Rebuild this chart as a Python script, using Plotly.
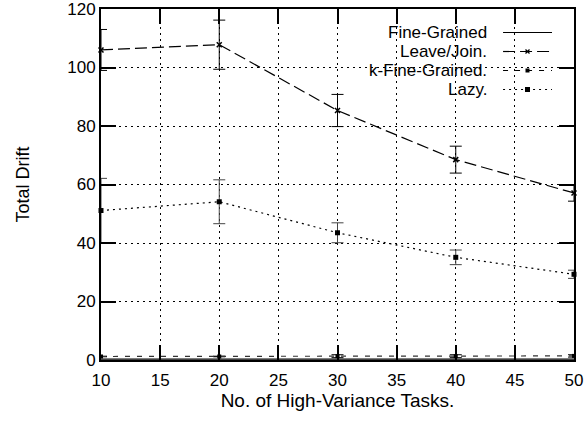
import plotly.graph_objects as go

# ---- data ----
tasks = [10, 20, 30, 40, 50]
fine_grained = [0.3, 0.3, 0.3, 0.3, 0.3]
leave_join = [106.0, 107.8, 85.3, 68.5, 57.1]
leave_join_err = [7.0, 8.4, 5.5, 4.6, 2.8]
k_fine_grained = [1.2, 1.2, 1.3, 1.3, 1.4]
k_fine_grained_err = [0.1, 0.1, 0.5, 0.5, 0.4]
lazy = [51.1, 54.1, 43.5, 35.1, 29.3]
lazy_err = [11.0, 7.5, 3.4, 2.5, 1.4]

series_names = ["Fine-Grained", "Leave/Join.", "k-Fine-Grained.", "Lazy."]

FONT = "Liberation Sans, Arial, Helvetica, sans-serif"

fig = go.Figure()

def err(arr, col="black"):
    return dict(type="data", array=arr, visible=True, color=col, thickness=1, width=6)

fig.add_trace(go.Scatter(x=tasks, y=fine_grained, mode="lines", name=series_names[0],
                         line=dict(color="black", width=1.3)))
fig.add_trace(go.Scatter(x=tasks, y=leave_join, mode="lines+markers", name=series_names[1],
                         line=dict(color="black", width=1.2, dash="12px,5px"),
                         marker=dict(symbol="x-thin", size=5, color="black",
                                     line=dict(color="black", width=1.5)),
                         error_y=err(leave_join_err), cliponaxis=False))
fig.add_trace(go.Scatter(x=tasks, y=k_fine_grained, mode="lines+markers", name=series_names[2],
                         line=dict(color="#333333", width=1.2, dash="5px,7px"),
                         marker=dict(symbol="square", size=4, color="black"),
                         error_y=err(k_fine_grained_err), cliponaxis=False))
fig.add_trace(go.Scatter(x=tasks, y=lazy, mode="lines+markers", name=series_names[3],
                         line=dict(color="black", width=1.2, dash="2px,4px"),
                         marker=dict(symbol="square", size=5, color="black"),
                         error_y=err(lazy_err, "#444444"), cliponaxis=False))

axis_common = dict(
    showline=True, linecolor="black", linewidth=2, mirror="ticks",
    ticks="inside", ticklen=15, tickwidth=2, tickcolor="black",
    showgrid=True, gridcolor="black", gridwidth=1, griddash="2px,4px",
    zeroline=False, automargin=False, ticklabeloverflow="allow",
    tickfont=dict(family=FONT, size=17, color="black"),
)

fig.update_xaxes(range=[10, 50], dtick=5, tick0=10, ticklabelstandoff=4,
                 title=dict(text="No. of High-Variance Tasks.",
                            font=dict(family=FONT, size=19, color="black"), standoff=0),
                 **axis_common)
fig.update_yaxes(range=[0, 120], dtick=20, tick0=0,
                 title=dict(text="Total Drift",
                            font=dict(family=FONT, size=18, color="black"), standoff=33),
                 **axis_common)

# legend box (opaque, hides grid)
shapes = [dict(type="rect", xref="paper", yref="paper", x0=0.463, x1=1.0, y0=0.753, y1=1.0,
               fillcolor="white", line=dict(width=0), layer="between")]
annotations = []
rows = [0.9330, 0.8789, 0.8248, 0.7707]
dashes = ["solid", "12px,5px", "5px,7px", "2px,4px"]
for i, (name, ry) in enumerate(zip(series_names, rows)):
    annotations.append(dict(x=0.818, y=ry, xref="paper", yref="paper", text=name,
                            showarrow=False, xanchor="right", yanchor="middle",
                            font=dict(family=FONT, size=17, color="black"),
                            borderpad=0))
    shapes.append(dict(type="line", xref="paper", yref="paper", x0=0.850, x1=0.9535,
                       y0=ry, y1=ry, line=dict(color="black", width=1.2, dash=dashes[i]),
                       layer="above"))
    if i in (2, 3):
        s = 2 if i == 2 else 2.5
        shapes.append(dict(type="rect", xref="paper", yref="paper", xsizemode="pixel",
                           ysizemode="pixel", xanchor=0.9017, yanchor=ry,
                           x0=-s, x1=s, y0=-s, y1=s, fillcolor="black",
                           line=dict(width=0), layer="above"))
    if i == 1:
        for d in (1, -1):
            shapes.append(dict(type="line", xref="paper", yref="paper", xsizemode="pixel",
                               ysizemode="pixel", xanchor=0.9017, yanchor=ry,
                               x0=-2, x1=2, y0=-2 * d, y1=2 * d,
                               line=dict(color="black", width=1.2), layer="above"))

fig.update_layout(
    width=587, height=423,
    margin=dict(l=101, r=13, t=9, b=63),
    paper_bgcolor="white", plot_bgcolor="white",
    showlegend=False,
    shapes=shapes, annotations=annotations,
    font=dict(family=FONT, color="black"),
)

fig.write_html("out.html")
